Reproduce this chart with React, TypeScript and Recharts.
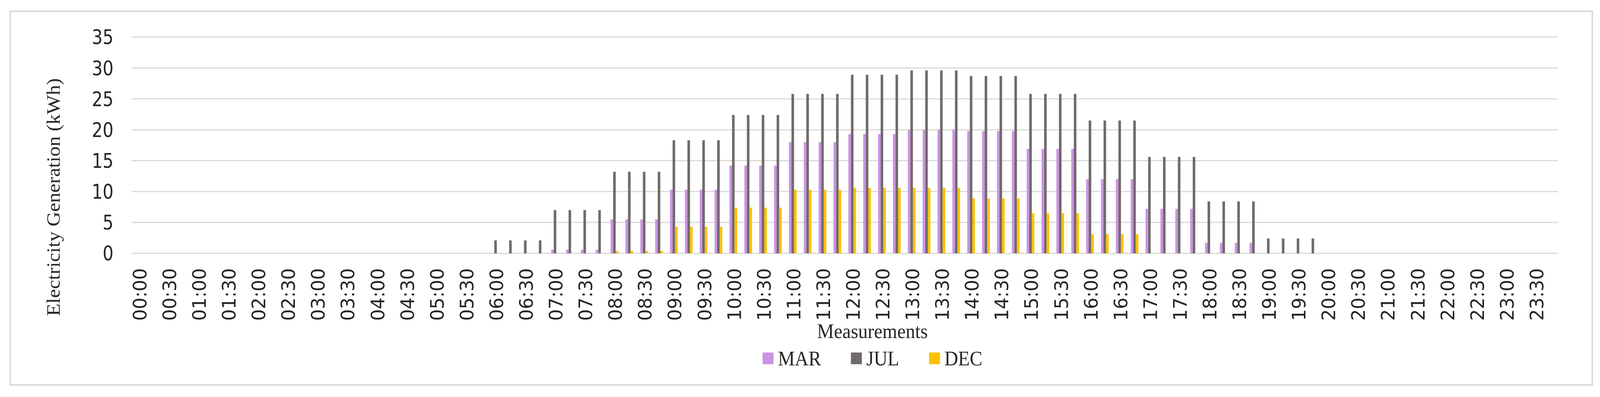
import React from 'react'
import {
  BarChart,
  Bar,
  XAxis,
  YAxis,
  CartesianGrid,
  Legend,
  Label,
} from 'recharts'

// 15 minute measurements, labels shown every 30 min
const times = [
  '00:00', '00:15', '00:30', '00:45', '01:00', '01:15', '01:30', '01:45',
  '02:00', '02:15', '02:30', '02:45', '03:00', '03:15', '03:30', '03:45',
  '04:00', '04:15', '04:30', '04:45', '05:00', '05:15', '05:30', '05:45',
  '06:00', '06:15', '06:30', '06:45', '07:00', '07:15', '07:30', '07:45',
  '08:00', '08:15', '08:30', '08:45', '09:00', '09:15', '09:30', '09:45',
  '10:00', '10:15', '10:30', '10:45', '11:00', '11:15', '11:30', '11:45',
  '12:00', '12:15', '12:30', '12:45', '13:00', '13:15', '13:30', '13:45',
  '14:00', '14:15', '14:30', '14:45', '15:00', '15:15', '15:30', '15:45',
  '16:00', '16:15', '16:30', '16:45', '17:00', '17:15', '17:30', '17:45',
  '18:00', '18:15', '18:30', '18:45', '19:00', '19:15', '19:30', '19:45',
  '20:00', '20:15', '20:30', '20:45', '21:00', '21:15', '21:30', '21:45',
  '22:00', '22:15', '22:30', '22:45', '23:00', '23:15', '23:30', '23:45',
]

const mar = [
  0, 0, 0, 0, 0, 0, 0, 0,
  0, 0, 0, 0, 0, 0, 0, 0,
  0, 0, 0, 0, 0, 0, 0, 0,
  0, 0, 0, 0, 0.6, 0.6, 0.6, 0.6,
  5.5, 5.5, 5.5, 5.5, 10.3, 10.3, 10.3, 10.3,
  14.2, 14.2, 14.2, 14.2, 18.0, 18.0, 18.0, 18.0,
  19.3, 19.3, 19.3, 19.3, 20.0, 20.0, 20.0, 20.0,
  19.8, 19.8, 19.8, 19.8, 16.9, 16.9, 16.9, 16.9,
  12.0, 12.0, 12.0, 12.0, 7.2, 7.2, 7.2, 7.2,
  1.7, 1.7, 1.7, 1.7, 0, 0, 0, 0,
  0, 0, 0, 0, 0, 0, 0, 0,
  0, 0, 0, 0, 0, 0, 0, 0,
]

const jul = [
  0, 0, 0, 0, 0, 0, 0, 0,
  0, 0, 0, 0, 0, 0, 0, 0,
  0, 0, 0, 0, 0, 0, 0, 0,
  2.1, 2.1, 2.1, 2.1, 7.0, 7.0, 7.0, 7.0,
  13.2, 13.2, 13.2, 13.2, 18.3, 18.3, 18.3, 18.3,
  22.4, 22.4, 22.4, 22.4, 25.8, 25.8, 25.8, 25.8,
  28.9, 28.9, 28.9, 28.9, 29.6, 29.6, 29.6, 29.6,
  28.7, 28.7, 28.7, 28.7, 25.8, 25.8, 25.8, 25.8,
  21.5, 21.5, 21.5, 21.5, 15.6, 15.6, 15.6, 15.6,
  8.4, 8.4, 8.4, 8.4, 2.4, 2.4, 2.4, 2.4,
  0, 0, 0, 0, 0, 0, 0, 0,
  0, 0, 0, 0, 0, 0, 0, 0,
]

const dec = [
  0, 0, 0, 0, 0, 0, 0, 0,
  0, 0, 0, 0, 0, 0, 0, 0,
  0, 0, 0, 0, 0, 0, 0, 0,
  0, 0, 0, 0, 0, 0, 0, 0,
  0.4, 0.4, 0.4, 0.4, 4.3, 4.3, 4.3, 4.3,
  7.4, 7.4, 7.4, 7.4, 10.3, 10.3, 10.3, 10.3,
  10.6, 10.6, 10.6, 10.6, 10.6, 10.6, 10.6, 10.6,
  8.9, 8.9, 8.9, 8.9, 6.5, 6.5, 6.5, 6.5,
  3.1, 3.1, 3.1, 3.1, 0, 0, 0, 0,
  0, 0, 0, 0, 0, 0, 0, 0,
  0, 0, 0, 0, 0, 0, 0, 0,
  0, 0, 0, 0, 0, 0, 0, 0,
]

const seriesNames = ['MAR', 'JUL', 'DEC']
const seriesColors = ['#cb94e3', '#706a6b', '#ffc000']
const yTicks = [0, 5, 10, 15, 20, 25, 30, 35]

const data = times.map((t, i) => ({ time: t, MAR: mar[i], JUL: jul[i], DEC: dec[i] }))

// layout is drawn in the reference's 4383x1017 frame and squeezed to the real viewport
const W = 4383
const H = 1017

const tickFont = "'Liberation Sans Narrow', 'Arial Narrow', 'DejaVu Sans Condensed', sans-serif"
const titleFont = "'Liberation Serif', 'DejaVu Serif', serif"
const textColor = '#262626'

const TimeTick = (props: any) => {
  const { x, y, payload } = props
  return (
    <text
      x={x}
      y={y}
      transform={`rotate(-90, ${x}, ${y})`}
      textAnchor="end"
      dy="0.4em"
      fontSize={52}
      fontFamily={tickFont}
      fill={textColor}
    >
      {payload.value}
    </text>
  )
}

const LegendBox = () => (
  <div
    style={{
      display: 'flex',
      alignItems: 'center',
      height: 60,
      fontFamily: titleFont,
      fontSize: 52,
      color: textColor,
      whiteSpace: 'nowrap',
    }}
  >
    {seriesNames.map((name, i) => (
      <div key={name} style={{ display: 'flex', alignItems: 'center', marginRight: 82 }}>
        <span style={{ width: 30, height: 30, background: seriesColors[i], marginRight: 12, display: 'inline-block' }} />
        <span>{name}</span>
      </div>
    ))}
  </div>
)

export default function App() {
  const vw = typeof window !== 'undefined' ? window.innerWidth : W
  const vh = typeof window !== 'undefined' ? window.innerHeight : H
  const sx = vw > 0 ? Math.min(1, vw / W) : 1
  const sy = vh > 0 ? Math.min(1, vh / H) : 1

  return (
    <div style={{ position: 'fixed', left: 0, top: 0, width: W, height: H, background: '#fff', overflow: 'hidden' }}>
      <div
        style={{
          position: 'absolute',
          left: 0,
          top: 0,
          width: W,
          height: H,
          transform: `scale(${sx}, ${sy})`,
          transformOrigin: '0 0',
        }}
      >
        <div
          style={{
            position: 'absolute',
            left: 26,
            top: 27,
            width: 4338,
            height: 961,
            border: '4px solid #d9d9d9',
            boxSizing: 'border-box',
          }}
        />
        <BarChart
          width={W}
          height={H}
          data={data}
          margin={{ top: 95, right: 115, bottom: 168, left: 0 }}
          barSize={7}
          barGap={0}
        >
          <CartesianGrid vertical={false} stroke="#d9d9d9" strokeWidth={3} />
          <XAxis
            dataKey="time"
            height={200}
            interval={1}
            axisLine={false}
            tickLine={false}
            tickMargin={32}
            tick={<TimeTick />}
          >
            <Label
              content={() => (
                <text x={2390} y={866} textAnchor="middle" fontSize={52} fontFamily={titleFont} fill={textColor}>
                  Measurements
                </text>
              )}
            />
          </XAxis>
          <YAxis
            width={360}
            domain={[0, 35]}
            ticks={yTicks}
            axisLine={false}
            tickLine={false}
            tickMargin={43}
            tick={{ fontSize: 52, fontFamily: tickFont, fill: textColor }}
          >
            <Label
              content={() => (
                <text
                  x={146}
                  y={505}
                  transform="rotate(-90, 146, 505)"
                  textAnchor="middle"
                  dominantBaseline="central"
                  fontSize={52}
                  fontFamily={titleFont}
                  fill={textColor}
                >
                  Electricity Generation (kWh)
                </text>
              )}
            />
          </YAxis>
          <Legend
            layout="horizontal"
            verticalAlign="middle"
            align="center"
            content={<LegendBox />}
            wrapperStyle={{ left: 2089, top: 888, width: 'auto' }}
          />
          <Bar dataKey="MAR" fill={seriesColors[0]} isAnimationActive={false} />
          <Bar dataKey="JUL" fill={seriesColors[1]} isAnimationActive={false} />
          <Bar dataKey="DEC" fill={seriesColors[2]} isAnimationActive={false} />
        </BarChart>
      </div>
    </div>
  )
}
